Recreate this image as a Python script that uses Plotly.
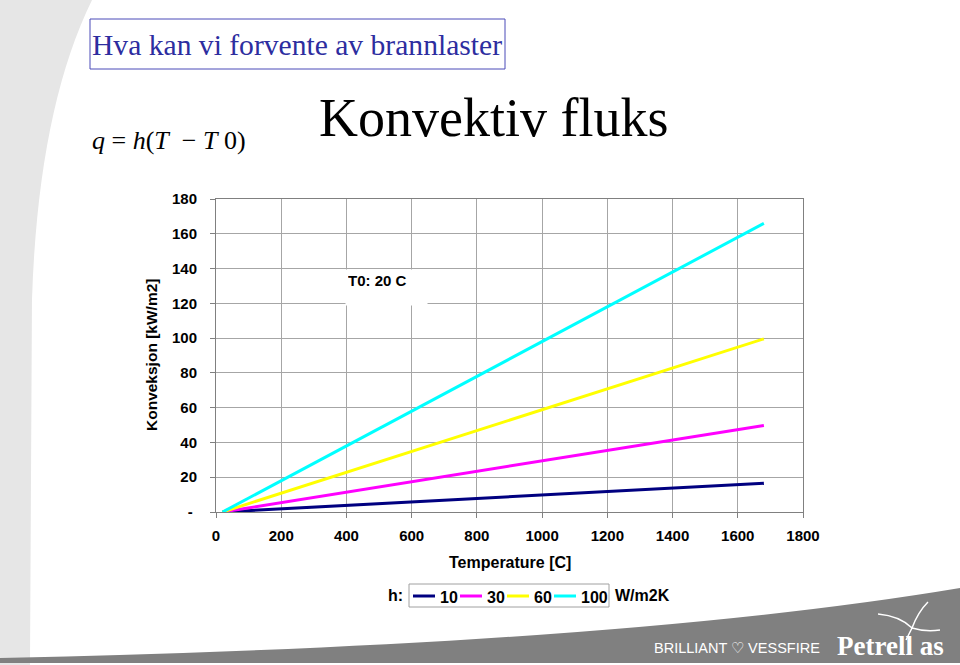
import plotly.graph_objects as go

# ---- data ----
temperature_c = [20, 1680]
h_labels = ["10", "30", "60", "100"]
q_h10 = [0.0, 16.6]
q_h30 = [0.0, 49.8]
q_h60 = [0.0, 99.6]
q_h100 = [0.0, 166.0]
series = [q_h10, q_h30, q_h60, q_h100]
colors = ["#000080", "#ff00ff", "#ffff00", "#00ffff"]
y_tickvals = [0, 20, 40, 60, 80, 100, 120, 140, 160, 180]
y_ticktext = ["- ", "20", "40", "60", "80", "100", "120", "140", "160", "180"]
x_tickvals = [0, 200, 400, 600, 800, 1000, 1200, 1400, 1600, 1800]

W, H = 960, 665
L, R, T, B = 216, 803, 199, 512


def px(x):
    return (x - L) / (R - L)


def py(y):
    return (B - y) / (B - T)


SANS = "Liberation Sans, Arial, sans-serif"
SERIF = "Liberation Serif, Times New Roman, serif"

fig = go.Figure()
for name, vals, col in zip(h_labels, series, colors):
    fig.add_trace(go.Scatter(x=temperature_c, y=vals, mode="lines", name=name,
                             line=dict(color=col, width=3), showlegend=False))

axis_font = dict(family=SANS, size=15, color="black", weight="bold")
fig.update_xaxes(range=[0, 1800], tickvals=x_tickvals, showgrid=True,
                 gridcolor="#a6a6a6", gridwidth=1, showline=True, linecolor="#808080",
                 linewidth=1, mirror=True, ticks="outside", ticklen=5, tickcolor="#808080",
                 tickfont=axis_font, zeroline=False, ticklabelstandoff=5)
fig.update_yaxes(range=[0, 180], tickvals=y_tickvals, ticktext=y_ticktext, showgrid=True,
                 gridcolor="#a6a6a6", gridwidth=1, showline=True, linecolor="#808080",
                 linewidth=1, mirror=True, ticks="outside", ticklen=5, tickcolor="#808080",
                 tickfont=axis_font, zeroline=False, ticklabelstandoff=10)

shapes = []
p = lambda x, y: f"{px(x):.4f},{py(y):.4f}"
# left light-gray decoration
shapes.append(dict(type="path", xref="paper", yref="paper", layer="below",
                   path=f"M {p(0,0)} L {p(92,0)} Q {p(38,110)} {p(32,300)} L {p(30,665)} L {p(0,665)} Z",
                   fillcolor="#e6e6e6", line=dict(width=0)))
# bottom gray swoosh
shapes.append(dict(type="path", xref="paper", yref="paper", layer="below",
                   path=f"M {p(0,658)} Q {p(620,645)} {p(960,588)} L {p(960,663)} L {p(0,663)} Z",
                   fillcolor="#808080", line=dict(width=0)))
# simple gull sketch in the logo
shapes.append(dict(type="path", xref="paper", yref="paper",
                   path=f"M {p(878,614)} Q {p(900,616)} {p(912,628)} Q {p(918,612)} {p(928,602)} "
                        f"M {p(912,628)} Q {p(925,632)} {p(940,630)} M {p(912,628)} L {p(906,640)}",
                   line=dict(color="white", width=1.5)))
# title box
shapes.append(dict(type="rect", xref="paper", yref="paper",
                   x0=px(90), x1=px(505), y0=py(19), y1=py(69),
                   line=dict(color="#4a4ab8", width=1), fillcolor="rgba(0,0,0,0)"))


def ann(text, x, y, size, family=SANS, xanchor="center", **kw):
    d = dict(text=text, x=px(x), y=py(y), xref="paper", yref="paper", xanchor=xanchor,
             yanchor="middle", showarrow=False,
             font=dict(family=family, size=size, color=kw.pop("color", "black"),
                       weight=kw.pop("weight", "normal")))
    d.update(kw)
    return d


bold = "bold"
annotations = [
    ann("Hva kan vi forvente av brannlaster", 297, 45, 29.6, SERIF, color="#2d2d9f"),
    ann("Konvektiv fluks", 493, 118, 54, SERIF),
    ann("<i>q</i> = <i>h</i>(<i>T</i>  − <i>T</i> 0)", 90, 140, 26, SERIF, xanchor="left"),
    ann("Konveksjon [kW/m2]", 151, 355, 15.5, weight=bold, textangle=-90),
    ann("Temperature [C]", 510, 562, 16, weight=bold),
    ann("T0: 20 C", 386.5, 287.5, 15, weight=bold, width=77, height=31, align="left",
        valign="top", bgcolor="white", borderpad=2),
    ann("h:", 395, 595, 16, weight=bold),
    ann("W/m2K", 613, 595, 16, weight=bold, xanchor="left"),
    ann("BRILLIANT \u2661 VESSFIRE", 737, 648, 14.5, SANS, color="white"),
    ann("Petrell as", 890, 646, 27, SERIF, color="white", weight=bold),
]

# custom compact legend (box, short line samples, labels)
shapes.append(dict(type="rect", xref="paper", yref="paper",
                   x0=px(409), x1=px(609), y0=py(584), y1=py(607),
                   line=dict(color="#a0a0a0", width=1), fillcolor="white"))
for i, (name, col) in enumerate(zip(h_labels, colors)):
    x0 = 413 + i * 47
    shapes.append(dict(type="line", xref="paper", yref="paper",
                       x0=px(x0), x1=px(x0 + 22), y0=py(596), y1=py(596),
                       line=dict(color=col, width=3)))
    annotations.append(ann(name, x0 + 25, 597, 16, weight=bold, xanchor="left"))

fig.update_layout(
    width=W, height=H,
    margin=dict(l=L, r=W - R, t=T, b=H - B),
    paper_bgcolor="white", plot_bgcolor="white",
    showlegend=False,
    shapes=shapes,
    annotations=annotations,
)

fig.write_html("out.html")
